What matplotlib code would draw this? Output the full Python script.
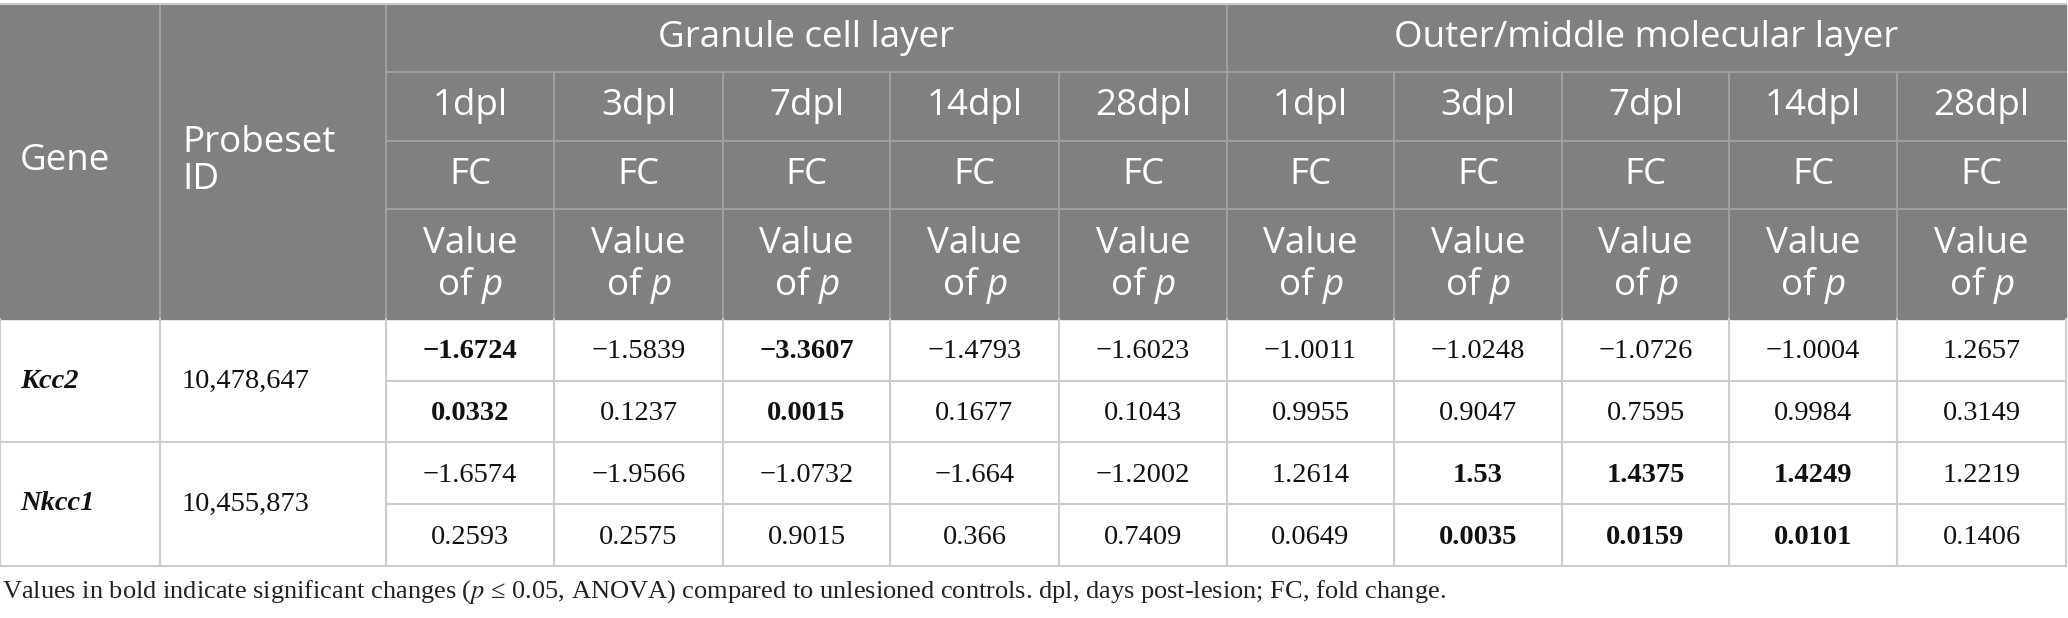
import matplotlib
matplotlib.use("Agg")
import matplotlib.pyplot as plt
from matplotlib.patches import Rectangle

plt.rcParams['mathtext.fontset'] = 'custom'
plt.rcParams['mathtext.rm'] = 'Open Sans'
plt.rcParams['mathtext.it'] = 'Open Sans:italic'

# table data
layers = ["Granule cell layer", "Outer/middle molecular layer"]
days = ["1dpl", "3dpl", "7dpl", "14dpl", "28dpl"]
genes = ["Kcc2", "Nkcc1"]
probesets = ["10,478,647", "10,455,873"]

kcc2_fc = [-1.6724, -1.5839, -3.3607, -1.4793, -1.6023, -1.0011, -1.0248, -1.0726, -1.0004, 1.2657]
kcc2_p = [0.0332, 0.1237, 0.0015, 0.1677, 0.1043, 0.9955, 0.9047, 0.7595, 0.9984, 0.3149]
nkcc1_fc = [-1.6574, -1.9566, -1.0732, -1.664, -1.2002, 1.2614, 1.53, 1.4375, 1.4249, 1.2219]
nkcc1_p = [0.2593, 0.2575, 0.9015, 0.366, 0.7409, 0.0649, 0.0035, 0.0159, 0.0101, 0.1406]

footnote = ("Values in bold indicate significant changes ($p$ \u2264 0.05, ANOVA) compared to "
            "unlesioned controls. dpl, days post-lesion; FC, fold change.")

W, H = 2068, 618
col_x = [0, 160, 386, 554, 723, 890, 1059, 1227, 1394, 1562, 1729, 1897, 2066]
head_y = [4, 72, 141, 209, 319]
body_y = [319, 381, 442, 504, 566]

HEAD_BG = '#808080'
HEAD_LINE = '#a3a3a3'
BODY_LINE = '#cccccc'
sans = 'Open Sans'
serif = 'Liberation Serif'


def fmt(v):
    return str(v).replace('-', '\u2212')


fig = plt.figure(figsize=(W / 100, H / 100), dpi=100)
ax = fig.add_axes([0, 0, 1, 1])
ax.set_xlim(0, W)
ax.set_ylim(H, 0)
ax.axis('off')

# header background
ax.add_patch(Rectangle((0, head_y[0]), col_x[-1], head_y[-1] - head_y[0], color=HEAD_BG, zorder=0))

# header lines
for y in head_y[1:4]:
    ax.plot([col_x[2], col_x[-1]], [y, y], color=HEAD_LINE, lw=1.3)
for x in col_x[1:-1]:
    y0 = head_y[0] if x in (col_x[1], col_x[2], col_x[7]) else head_y[1]
    ax.plot([x, x], [y0, head_y[-1]], color=HEAD_LINE, lw=1.3)
ax.plot([0, col_x[-1]], [head_y[0], head_y[0]], color='#c8c8c8', lw=1.5)

hkw = dict(color='white', family=sans, fontsize=26.5, va='center')
ax.text(20, (head_y[0] + head_y[-1]) / 2, "Gene", ha='left', **hkw)
ax.text(182, (head_y[0] + head_y[-1]) / 2, "Probeset\nID", ha='left', linespacing=1.05, **hkw)
ax.text((col_x[2] + col_x[7]) / 2, 38, layers[0], ha='center', **hkw)
ax.text((col_x[7] + col_x[12]) / 2, 38, layers[1], ha='center', **hkw)
for i in range(10):
    cx = (col_x[i + 2] + col_x[i + 3]) / 2
    ax.text(cx, (head_y[1] + head_y[2]) / 2, days[i % 5], ha='center', **hkw)
    ax.text(cx, (head_y[2] + head_y[3]) / 2, "FC", ha='center', **hkw)
    ax.text(cx, 244, "Value", ha='center', **hkw)
    ax.text(cx, 285, "of $p$", ha='center', math_fontfamily='custom', **hkw)

# body lines
for y in body_y[1:]:
    x0 = 0 if y in (body_y[2], body_y[4]) else col_x[2]
    ax.plot([x0, col_x[-1]], [y, y], color=BODY_LINE, lw=1.5)
for x in col_x:
    ax.plot([x, x], [body_y[0], body_y[-1]], color=BODY_LINE, lw=1.5)

rows = [(kcc2_fc, kcc2_p), (nkcc1_fc, nkcc1_p)]
for g, (fc, pv) in enumerate(rows):
    ytop = body_y[2 * g]
    ymid = body_y[2 * g + 1]
    ybot = body_y[2 * g + 2]
    ax.text(20, ymid, genes[g], ha='left', va='center', family=serif, fontsize=20.5,
            weight='bold', style='italic', color='#111111')
    ax.text(182, ymid, probesets[g], ha='left', va='center', family=serif, fontsize=20.5,
            color='#111111')
    for i in range(10):
        cx = (col_x[i + 2] + col_x[i + 3]) / 2
        w = 'bold' if pv[i] <= 0.05 else 'normal'
        ax.text(cx, (ytop + ymid) / 2 + 2, fmt(fc[i]), ha='center', va='center', family=serif,
                fontsize=20.5, weight=w, color='#111111')
        ax.text(cx, (ymid + ybot) / 2 + 2, fmt(pv[i]), ha='center', va='center', family=serif,
                fontsize=20.5, weight=w, color='#111111')

ax.text(2, 592, footnote, ha='left', va='center', family=serif, fontsize=19,
        math_fontfamily='stix', color='#222222')

fig.savefig('out.png', dpi=100)
